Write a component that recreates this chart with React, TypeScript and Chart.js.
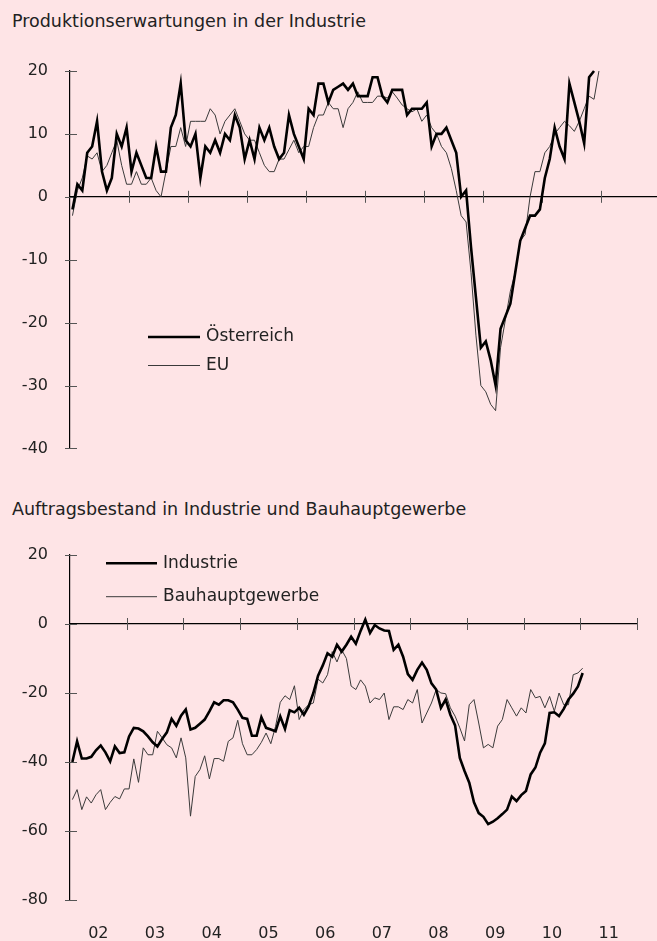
import React, { useEffect, useRef } from "react";
import { Chart, registerables } from "chart.js";

Chart.register(...registerables);

const FONT = '"DejaVu Sans", sans-serif';
const BG = "#fee4e6";
const TEXT = "#222222";

const title1 = "Produktionserwartungen in der Industrie";
const title2 = "Auftragsbestand in Industrie und Bauhauptgewerbe";
const seriesLabels1 = ["Österreich", "EU"];
const seriesLabels2 = ["Industrie", "Bauhauptgewerbe"];
const yearLabels = ["02", "03", "04", "05", "06", "07", "08", "09", "10", "11"];

// Monthly values from Jan 2002 (index 0)
const osterreich = [
  -2, 2, 1, 7, 8, 12, 4, 1, 3, 10, 8, 11,
  4, 7, 5, 3, 3, 8, 4, 4, 11, 13, 18, 9,
  8, 10, 3, 8, 7, 9, 7, 10, 9, 13, 11, 6,
  9, 6, 11, 9, 11, 8, 6, 7, 13, 10, 8, 6,
  14, 13, 18, 18, 15, 17, 17.5, 18, 17, 18, 16, 16,
  16, 19, 19, 16, 15, 17, 17, 17, 13, 14, 14, 14,
  15, 8, 10, 10, 11, 9, 7, 0, 1, -8, -16, -24,
  -23, -26, -30, -21, -19, -17, -12, -7, -5, -3, -3, -2,
  3, 6, 11, 8, 6, 18, 15, 12, 8.5, 19, 20,
];
const eu = [
  -3, 1, 3, 6.5, 6, 7, 4, 5, 7, 9, 5, 2,
  2, 4, 2, 2, 3, 1, 0, 4, 8, 8, 11, 8,
  12, 12, 12, 12, 14, 13, 10, 12, 13, 14, 12, 10,
  9, 9, 7, 5, 4, 4, 6, 6, 7.5, 9, 7, 8,
  8, 11, 13, 13, 15, 14, 14, 11, 14, 15, 16.7, 15,
  15, 15, 16, 16, 15.7, 16.7, 15.7, 14.6, 14, 13.5, 14, 12,
  13, 11, 10, 8, 7, 4.5, 1, -3, -4, -12, -22, -30,
  -31, -33, -34, -24, -19.5, -15, -12, -7, -6, 0, 4, 4,
  7, 8, 10, 11, 12, 11.3, 10.4, 12, 14, 16, 15.5, 20,
];
const industrie = [
  -40, -34, -39, -39, -38.5, -36.6, -35.2, -37.2, -39.8, -35.5, -37.4, -37.2,
  -32.6, -30.1, -30.3, -31.1, -32.6, -34.3, -35.5, -33.3, -31.4, -27.5, -29.5, -26.6,
  -24.8, -30.6, -30.1, -28.9, -27.7, -25.3, -22.7, -23.4, -22.1, -22.1, -22.7, -24.8,
  -27.2, -27.5, -32.4, -32.4, -27, -30.1, -30.6, -31.1, -26.8, -30.4, -25, -25.6,
  -24.3, -26.3, -23.9, -20, -15, -12, -8.5, -9.5, -6, -8, -6, -3.7,
  -5.7, -2, 1.3, -2.6, -0.3, -1.3, -1.9, -2, -7.5, -6, -9.5, -14.5,
  -16.2, -13.3, -11.2, -13.3, -17.2, -19, -24.3, -21.9, -26.3, -29.4, -38.8, -42.6,
  -46, -51.7, -54.8, -55.9, -58, -57.3, -56.3, -55.1, -53.8, -50, -51.3, -49.6,
  -48.4, -43.6, -41.6, -37.3, -34.6, -25.8, -25.6, -26.7, -24.6, -21.9, -20.2, -18.1,
  -14.2,
];
const bauhauptgewerbe = [
  -50.9, -48, -53.8, -50.1, -51.9, -49.5, -48, -53.8, -51.7, -50, -50.7, -47.8,
  -47.8, -39.1, -45.9, -35.9, -37.9, -37.9, -31.1, -33, -35, -35.9, -38.8, -33,
  -38.8, -55.7, -44.2, -42.2, -38.2, -44.9, -39, -39, -39.8, -34, -33, -27.9,
  -34.7, -37.9, -37.9, -36.4, -34.3, -31.6, -34.7, -29.7, -22.7, -20.8, -21.9, -17.9,
  -27.7, -24.8, -23.4, -22.9, -16, -17.1, -14.7, -8, -11, -7.5, -10, -18,
  -19, -16.2, -18, -22.9, -21.4, -21.9, -20, -27.7, -24, -24, -24.8, -21.9,
  -22.9, -19, -28.7, -25.8, -22.9, -19, -20, -20.2, -24.3, -26.7, -30.1, -33.9,
  -23.4, -21.9, -28.7, -35.9, -34.9, -35.9, -29.6, -27.7, -21.9, -24.3, -26.7, -24.3,
  -25.8, -19, -21.4, -21, -24.3, -21, -25.3, -20, -23.4, -23.4, -14.7, -14.2,
  -12.8,
];

const toPoints = (arr: number[]) => arr.map((v, i) => ({ x: i + 0.5, y: v }));

const axisTicksPlugin = {
  id: "axisTicks",
  beforeDatasetsDraw(chart: any, _args: any, opts: any) {
    const ctx = chart.ctx;
    const ys = chart.scales.y;
    const xs = chart.scales.x;
    const left = chart.chartArea.left;
    ctx.save();
    ctx.strokeStyle = opts.color || "#555";
    ctx.lineWidth = 1;
    ctx.beginPath();
    ys.ticks.forEach((t: any) => {
      const py = Math.round(ys.getPixelForValue(t.value)) + 0.5;
      ctx.moveTo(left - 5, py);
      ctx.lineTo(left + 7, py);
    });
    const y0 = ys.getPixelForValue(0);
    xs.ticks.forEach((t: any) => {
      if (t.value <= xs.min) return;
      const px = Math.round(xs.getPixelForValue(t.value)) + 0.5;
      ctx.moveTo(px, y0 - 6);
      ctx.lineTo(px, y0 + 6);
    });
    ctx.stroke();
    ctx.restore();
  },
};

const lineLegendPlugin = {
  id: "lineLegend",
  afterDraw(chart: any, _args: any, opts: any) {
    if (!opts || opts.x == null) return;
    const ctx = chart.ctx;
    ctx.save();
    chart.data.datasets.forEach((ds: any, i: number) => {
      const yy = opts.y + i * opts.rowGap;
      ctx.strokeStyle = ds.borderColor;
      ctx.lineWidth = ds.borderWidth;
      ctx.beginPath();
      ctx.moveTo(opts.x, yy);
      ctx.lineTo(opts.x + opts.lineLength, yy);
      ctx.stroke();
      ctx.fillStyle = TEXT;
      ctx.font = `${opts.fontSize}px ${FONT}`;
      ctx.textBaseline = "middle";
      ctx.textAlign = "left";
      ctx.fillText(ds.label, opts.x + opts.lineLength + opts.textGap, yy);
    });
    ctx.restore();
  },
};

function ChartCanvas({ top, width, height, build }: any) {
  const ref = useRef<HTMLCanvasElement | null>(null);
  useEffect(() => {
    if (!ref.current) return;
    const chart = new Chart(ref.current, build());
    return () => chart.destroy();
  }, []);
  return (
    <canvas
      ref={ref}
      width={width}
      height={height}
      style={{ position: "absolute", left: 0, top, width, height, display: "block" }}
    />
  );
}

const thick = { borderColor: "#000000", borderWidth: 2.6 };
const thin = { borderColor: "#3a3a3a", borderWidth: 1 };

const commonDs = { pointRadius: 0, tension: 0, fill: false, clip: false as any };

function buildTop(): any {
  return {
    type: "line",
    data: {
      datasets: [
        { label: seriesLabels1[0], data: toPoints(osterreich), ...thick, ...commonDs },
        { label: seriesLabels1[1], data: toPoints(eu), ...thin, ...commonDs },
      ],
    },
    plugins: [axisTicksPlugin, lineLegendPlugin],
    options: {
      responsive: false,
      animation: false,
      maintainAspectRatio: false,
      layout: { padding: { top: 71, bottom: 31, left: 0, right: 0 } },
      plugins: {
        legend: { display: false },
        tooltip: { enabled: false },
        axisTicks: { color: "#555" },
        lineLegend: { x: 148, y: 337, rowGap: 28.5, lineLength: 52, textGap: 6, fontSize: 17 },
      },
      scales: {
        x: {
          type: "linear",
          min: 0,
          max: 119.3,
          position: { y: 0 },
          grid: { display: false, drawTicks: false },
          border: { display: true, color: "#000", width: 1.2 },
          ticks: { display: false, stepSize: 12 },
        },
        y: {
          min: -40,
          max: 20,
          ticks: { stepSize: 10, color: TEXT, font: { family: FONT, size: 16 }, padding: 22 },
          grid: { display: false, drawTicks: false },
          border: { display: true, color: "#000", width: 1.2 },
          afterFit: (s: any) => {
            s.width = 70;
          },
        },
      },
    },
  };
}

function buildBottom(): any {
  return {
    type: "line",
    data: {
      datasets: [
        { label: seriesLabels2[0], data: toPoints(industrie), ...thick, ...commonDs },
        { label: seriesLabels2[1], data: toPoints(bauhauptgewerbe), ...thin, ...commonDs },
      ],
    },
    plugins: [axisTicksPlugin, lineLegendPlugin],
    options: {
      responsive: false,
      animation: false,
      maintainAspectRatio: false,
      layout: { padding: { top: 75, bottom: 0, left: 0, right: 20 } },
      plugins: {
        legend: { display: false },
        tooltip: { enabled: false },
        axisTicks: { color: "#555" },
        lineLegend: { x: 106, y: 83.3, rowGap: 33.4, lineLength: 51, textGap: 6, fontSize: 17 },
      },
      scales: {
        x: {
          type: "linear",
          min: 0,
          max: 120,
          position: { y: 0 },
          grid: { display: false, drawTicks: false },
          border: { display: true, color: "#000", width: 1.2 },
          ticks: { display: false, stepSize: 12 },
        },
        x2: {
          type: "linear",
          axis: "x",
          min: 0,
          max: 120,
          position: "bottom",
          grid: { display: false, drawTicks: false },
          border: { display: false },
          ticks: {
            autoSkip: false,
            maxRotation: 0,
            color: TEXT,
            font: { family: FONT, size: 16 },
            padding: 24,
            callback: (_v: any, idx: number) => yearLabels[idx],
          },
          afterBuildTicks: (s: any) => {
            s.ticks = yearLabels.map((_l, i) => ({ value: 6 + 12 * i }));
          },
          afterFit: (s: any) => {
            s.height = 41;
          },
        },
        y: {
          min: -80,
          max: 20,
          ticks: { stepSize: 20, color: TEXT, font: { family: FONT, size: 16 }, padding: 22 },
          grid: { display: false, drawTicks: false },
          border: { display: true, color: "#000", width: 1.2 },
          afterFit: (s: any) => {
            s.width = 70;
          },
        },
      },
    },
  };
}

const titleStyle: any = {
  position: "absolute",
  left: 12,
  margin: 0,
  fontFamily: FONT,
  fontSize: 17.5,
  lineHeight: 1,
  color: TEXT,
  whiteSpace: "nowrap",
};

export default function App() {
  return (
    <div
      style={{
        position: "fixed",
        left: 0,
        top: 0,
        width: 657,
        height: 941,
        background: BG,
        overflow: "hidden",
      }}
    >
      <div style={{ ...titleStyle, top: 13 }}>{title1}</div>
      <ChartCanvas top={0} width={657} height={480} build={buildTop} />
      <div style={{ ...titleStyle, top: 501 }}>{title2}</div>
      <ChartCanvas top={480} width={657} height={461} build={buildBottom} />
    </div>
  );
}
